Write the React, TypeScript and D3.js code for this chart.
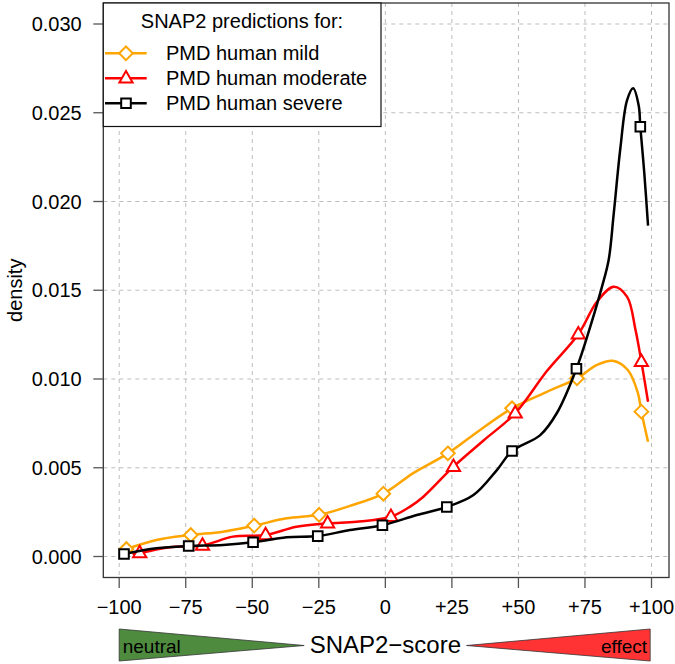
import * as d3 from 'd3';

// density curves: [score, density]
const mildCurve: [number, number][] = [
  [-97.3, 0.00042], [-86, 0.00093], [-73.1, 0.00121], [-61, 0.0014], [-49.3, 0.00174],
  [-37.1, 0.00215], [-24.9, 0.00235], [-13.3, 0.00285], [-0.75, 0.00354], [10.5, 0.0047],
  [23.5, 0.00581], [35.6, 0.00713], [47.6, 0.00835], [60.7, 0.00928], [72.0, 0.01004],
  [79.5, 0.01079], [85.4, 0.01103], [91.1, 0.01051], [94.9, 0.0092],
  [96.2, 0.00816], [98.7, 0.00647],
];
const moderateCurve: [number, number][] = [
  [-95, 0.00015], [-92.3, 0.0002], [-81, 0.00052], [-68.7, 0.00062], [-57.2, 0.00112],
  [-45, 0.00121], [-33.4, 0.00168], [-21.7, 0.00187], [-10.8, 0.00196], [2.1, 0.00224],
  [9.3, 0.00281], [14.3, 0.00337], [25.6, 0.00506], [37, 0.00655], [48.8, 0.00807],
  [60.7, 0.01045], [72.5, 0.01252], [79.5, 0.01435], [85.8, 0.0152], [90.8, 0.01464],
  [94, 0.01276], [96.2, 0.01097], [98.7, 0.00872],
];
const severeCurve: [number, number][] = [
  [-98.2, 0.00014], [-86, 0.00046], [-73.9, 0.00059], [-61, 0.00065], [-49.7, 0.0008],
  [-37.1, 0.00108], [-25.4, 0.00115], [-13.3, 0.00149], [-1.1, 0.00176], [11.8, 0.00234],
  [23.1, 0.00279], [33.1, 0.00346], [41.9, 0.00487], [47.6, 0.00594], [58.2, 0.00684],
  [64.4, 0.00807], [71.8, 0.01058], [77, 0.01295], [81.4, 0.0152], [83.9, 0.0167],
  [85.8, 0.0193], [88.3, 0.023], [90.8, 0.0257], [93.1, 0.02638], [95.2, 0.0254],
  [95.8, 0.02421], [97.3, 0.02159], [98.7, 0.01864],
];

// marker positions along each curve
const mildMarkers: [number, number][] = [
  [-97.3, 0.00042], [-73.1, 0.00121], [-49.3, 0.00174], [-24.9, 0.00235], [-0.75, 0.00354],
  [23.5, 0.00581], [47.6, 0.00835], [72.0, 0.01004], [96.2, 0.00816],
];
const moderateMarkers: [number, number][] = [
  [-92.3, 0.0002], [-68.7, 0.00062], [-45, 0.00121], [-21.7, 0.00187], [2.1, 0.00224],
  [25.6, 0.00506], [48.8, 0.00807], [72.5, 0.01252], [96.2, 0.01097],
];
const severeMarkers: [number, number][] = [
  [-98.2, 0.00014], [-73.9, 0.00059], [-49.7, 0.0008], [-25.4, 0.00115], [-1.1, 0.00176],
  [23.1, 0.00279], [47.6, 0.00594], [71.8, 0.01058], [95.8, 0.02421],
];

const seriesNames = ['PMD human mild', 'PMD human moderate', 'PMD human severe'];
const seriesColors = ['#ffa500', '#ff0000', '#000000'];
const seriesShapes = ['diamond', 'triangle', 'square'];

const xTicks = [-100, -75, -50, -25, 0, 25, 50, 75, 100];
const xTickLabels = ['\u2212100', '\u221275', '\u221250', '\u221225', '0', '+25', '+50', '+75', '+100'];
const yTicks = [0, 0.005, 0.01, 0.015, 0.02, 0.025, 0.03];

const W = 675;
const H = 664;
const FONT = '"Liberation Sans", Arial, Helvetica, sans-serif';

const x = d3.scaleLinear().domain([-100, 100]).range([119.2, 651.5]);
const y = d3.scaleLinear().domain([0, 0.03]).range([556.5, 24]);

// plot box
const boxL = 103.3, boxR = 669, boxT = 3, boxB = 577.5;

const line = d3
  .line<[number, number]>()
  .x((d) => x(d[0]))
  .y((d) => y(d[1]))
  .curve(d3.curveCatmullRom.alpha(0.5));

function markerPath(shape: string) {
  if (shape === 'diamond') return 'M0,-6.8L6.8,0L0,6.8L-6.8,0Z';
  if (shape === 'triangle') return 'M0,-7.2L6.6,4.2L-6.6,4.2Z';
  return 'M-4.8,-4.8H4.8V4.8H-4.8Z';
}

function Marker({ cx, cy, shape, color }: { cx: number; cy: number; shape: string; color: string }) {
  return (
    <path
      d={markerPath(shape)}
      transform={`translate(${cx},${cy})`}
      fill="#fff"
      stroke={color}
      strokeWidth={2}
    />
  );
}

export default function App() {
  const curves = [mildCurve, moderateCurve, severeCurve];
  const markers = [mildMarkers, moderateMarkers, severeMarkers];
  const legendRows = [53.3, 78.3, 103.3];

  return (
    <svg
      width={W}
      height={H}
      style={{ position: 'absolute', left: 0, top: 0, background: '#fff' }}
      fontFamily={FONT}
    >
      <rect x={0} y={0} width={W} height={H} fill="#fff" />

      {/* grid */}
      <g stroke="#bdbdbd" strokeWidth={1} strokeDasharray="4,4">
        {xTicks.map((t) => (
          <line key={'gx' + t} x1={x(t)} x2={x(t)} y1={boxT} y2={boxB} />
        ))}
        {yTicks.map((t) => (
          <line key={'gy' + t} x1={boxL} x2={boxR} y1={y(t)} y2={y(t)} />
        ))}
      </g>

      {/* series */}
      {curves.map((c, i) => (
        <g key={seriesNames[i]}>
          <path d={line(c) || ''} fill="none" stroke={seriesColors[i]} strokeWidth={2.5} />
          {markers[i].map((m, j) => (
            <Marker key={j} cx={x(m[0])} cy={y(m[1])} shape={seriesShapes[i]} color={seriesColors[i]} />
          ))}
        </g>
      ))}

      {/* box */}
      <rect x={boxL} y={boxT} width={boxR - boxL} height={boxB - boxT} fill="none" stroke="#333" strokeWidth={1.3} />

      {/* y axis */}
      {yTicks.map((t) => (
        <g key={'yt' + t}>
          <line x1={boxL - 10} x2={boxL} y1={y(t)} y2={y(t)} stroke="#555" strokeWidth={1.3} />
          <text x={81.7} y={y(t) + 7} textAnchor="end" fontSize={20} fill="#000">
            {t.toFixed(3)}
          </text>
        </g>
      ))}
      <text
        transform={`translate(22,${(boxT + boxB) / 2}) rotate(-90)`}
        textAnchor="middle"
        fontSize={20}
        fill="#000"
      >
        density
      </text>

      {/* x axis */}
      {xTicks.map((t, i) => (
        <g key={'xt' + t}>
          <line x1={x(t)} x2={x(t)} y1={boxB} y2={boxB + 10.5} stroke="#555" strokeWidth={1.3} />
          <text x={x(t)} y={614} textAnchor="middle" fontSize={20} fill="#000">
            {xTickLabels[i]}
          </text>
        </g>
      ))}

      {/* score scale triangles */}
      <path
        d={`M${x(-100)},629L${x(-30.5)},645.5L${x(-100)},661Z`}
        fill="#4f8b3f"
        stroke="#333"
        strokeWidth={0.8}
      />
      <path
        d={`M${x(99.5)},629L${x(30.5)},645.5L${x(99.5)},661Z`}
        fill="#ff3333"
        stroke="#333"
        strokeWidth={0.8}
      />
      <text x={x(-100) + 3.5} y={653} fontSize={19} fill="#000">
        neutral
      </text>
      <text x={x(99.5) - 3} y={653} fontSize={19} textAnchor="end" fill="#000">
        effect
      </text>
      <text x={(x(-30.5) + x(30.5)) / 2} y={653.3} fontSize={24} textAnchor="middle" fill="#000">
        SNAP2{'\u2212'}score
      </text>

      {/* legend */}
      <rect x={boxL} y={boxT} width={381 - boxL} height={126.5 - boxT} fill="#fff" stroke="#111" strokeWidth={1.2} />
      <text x={242} y={28.3} fontSize={20} textAnchor="middle" fill="#000">
        SNAP2 predictions for:
      </text>
      {seriesNames.map((name, i) => (
        <g key={'lg' + name}>
          <line x1={105} x2={146.7} y1={legendRows[i]} y2={legendRows[i]} stroke={seriesColors[i]} strokeWidth={2.5} />
          <Marker cx={126} cy={legendRows[i]} shape={seriesShapes[i]} color={seriesColors[i]} />
          <text x={166} y={legendRows[i] + 6.8} fontSize={20} fill="#000">
            {name}
          </text>
        </g>
      ))}
    </svg>
  );
}
